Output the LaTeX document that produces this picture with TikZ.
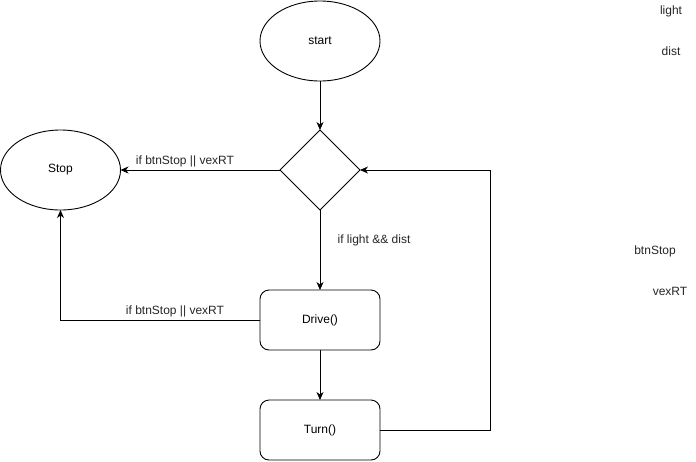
\documentclass[tikz,border=0pt]{standalone}
\usepackage{fontspec}
\setmainfont{Liberation Sans}
\usetikzlibrary{shapes.geometric,arrows.meta}
\begin{document}
\begin{tikzpicture}[x=1pt,y=-1pt,
  font=\fontsize{12}{14}\selectfont,
  every node/.style={inner sep=0pt, outer sep=0pt},
  oval/.style={draw, ellipse, line width=0.9pt, minimum width=120pt, minimum height=80pt},
  choice/.style={draw, diamond, line width=0.9pt, minimum width=80pt, minimum height=80pt, aspect=1},
  action/.style={draw, rectangle, rounded corners=9pt, line width=0.9pt, minimum width=120pt, minimum height=60pt},
  flow/.style={line width=0.9pt, -{Stealth[length=8pt,width=7pt,inset=2.5pt]}},
  tag/.style={text=black!85}]
  \useasboundingbox (0,0) rectangle (696,461);
  \fill[white] (0,0) rectangle (696,461);

  % states
  \node[oval] (start) at (320,41) {start};
  \node[choice] (check) at (320,170) {};
  \node[oval] (stop) at (60.5,170) {Stop};
  \node[action] (drive) at (320,320) {Drive()};
  \node[action] (turn) at (320,430) {Turn()};

  % variable names
  \node[tag] (vlight) at (671,11) {light};
  \node[tag] (vdist) at (671,51) {dist};
  \node[tag] (vbtn) at (655,251) {btnStop};
  \node[tag] (vvex) at (670,291) {vexRT};

  % transitions
  \draw[flow] (start) -- (check);
  \draw[flow] (check.west) -- (stop.east);
  \draw[flow] (check.south) -- (drive.north);
  \draw[flow] (drive.west) -| (stop.south);
  \draw[flow] (drive.south) -- (turn.north);
  \draw[flow] (turn.east) -- (490,430) -- (490,170) -- (check.east);

  % guards
  \node[tag] (g1) at (185,161) {if btnStop || vexRT};
  \node[tag] (g2) at (374,240) {if light \&\& dist};
  \node[tag] (g3) at (175,311) {if btnStop || vexRT};
\end{tikzpicture}
\end{document}
